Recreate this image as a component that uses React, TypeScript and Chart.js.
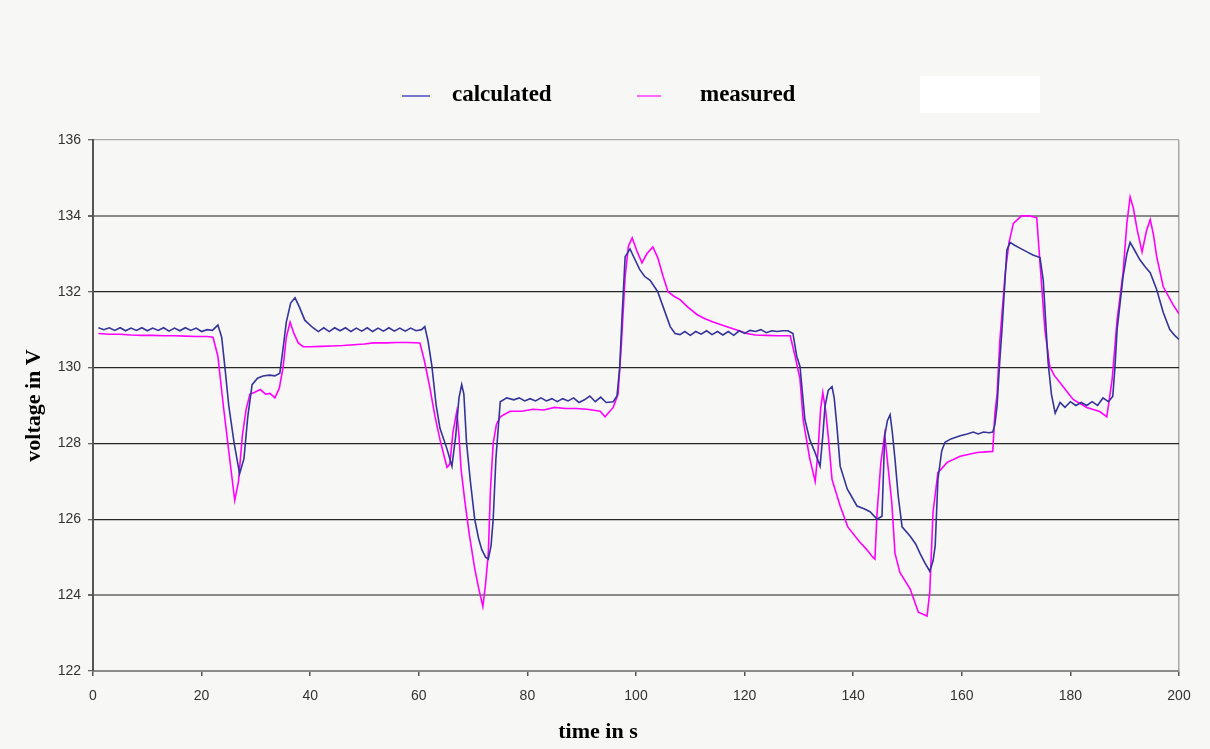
import React, { useEffect, useRef } from "react";
import { Chart, registerables } from "chart.js";

Chart.register(...registerables);

const seriesLabels = ["calculated", "measured"];
const seriesColors = ["#343499", "#ff00ff"];

const calcTime = [
  1, 2, 3, 4, 5, 6, 7, 8, 9, 10, 11, 12, 13, 14, 15, 16, 17, 18, 19, 20, 21, 22, 23,
  23.7, 24.3, 25, 26, 27, 27.8, 28.5, 29.3, 30.3, 31.3, 32.5, 33.5, 34.4, 35, 35.6, 36.4, 37.2, 38, 39,
  40.5, 41.5, 42.5, 43.5, 44.5, 45.5, 46.5, 47.5, 48.5, 49.5, 50.5, 51.5, 52.5, 53.5, 54.5, 55.5, 56.5,
  57.5, 58.5, 59.5, 60.5, 61.1, 61.7, 62.4, 63.2, 63.9, 65.2, 66.1, 66.8, 67.4, 67.9, 68.3, 68.8, 69.5,
  70.3, 71, 71.6, 72.3, 72.8, 73.3, 73.7, 74.2, 75, 76.2, 77.5, 78.5, 79.5, 80.5, 81.5, 82.5, 83.5, 84.5,
  85.5, 86.5, 87.5, 88.5, 89.5, 90.5, 91.5, 92.5, 93.5, 94.5, 95.8, 96.5, 97, 97.4, 98, 98.9, 99.8, 100.7,
  101.6, 102.6, 103.3, 104, 105, 106.3, 107.2, 108.1, 109, 110, 111, 112, 113, 114, 115, 116, 117, 118,
  119, 120, 121, 122, 123, 124, 125, 126, 127, 128, 128.9, 129.6, 130.2, 131.1, 132, 133, 133.9, 134.4,
  134.8, 135.4, 136.1, 136.5, 137, 137.6, 138.9, 140.7, 142, 143.1, 144.4, 145.3, 145.8, 146.3, 146.8,
  147.2, 147.7, 148.3, 149, 150.5, 151.5, 152.3, 153.2, 154.1, 154.7, 155.1, 155.6, 156.3, 156.9, 158,
  159.7, 161, 162.1, 163, 164, 165, 165.7, 166.1, 166.5, 167, 167.4, 168.3, 168.9, 169.8, 170.7, 172,
  173.1, 174.4, 175, 175.9, 176.5, 177.2, 178.1, 179, 180, 181, 182, 183, 184, 185, 186, 187, 187.8,
  188.2, 188.6, 189.7, 190.4, 191, 191.8, 192.8, 193.8, 194.7, 195.9, 197.1, 198.3, 199.2, 200,
];
const calcVolt = [
  131.05, 131.0, 131.05, 130.98, 131.05, 130.97, 131.04, 130.98, 131.05, 130.97, 131.04, 130.98, 131.05,
  130.96, 131.04, 130.97, 131.05, 130.98, 131.04, 130.95, 131.0, 130.98, 131.12,
  130.8, 130.0, 129.0, 128.0, 127.2, 127.6, 128.7, 129.55, 129.72, 129.78, 129.8, 129.78, 129.85, 130.5,
  131.2, 131.7, 131.84, 131.6, 131.25,
  131.05, 130.95, 131.05, 130.95, 131.05, 130.97, 131.05, 130.95, 131.04, 130.96, 131.05, 130.95, 131.04,
  130.96, 131.05, 130.96, 131.04, 130.96, 131.04, 130.97, 131.0, 131.08, 130.7, 130.05, 129.0, 128.4,
  127.85, 127.4, 128.2, 129.2, 129.55, 129.3, 128.0, 127.0,
  126.0, 125.5, 125.2, 125.0, 124.95, 125.3, 126.0, 127.6, 129.1, 129.2, 129.15, 129.2, 129.12, 129.18,
  129.12, 129.2, 129.12, 129.18,
  129.1, 129.18, 129.12, 129.2, 129.08, 129.15, 129.25, 129.1, 129.22, 129.08, 129.1, 129.25, 130.0,
  131.26, 132.92, 133.13, 132.85, 132.58,
  132.4, 132.3, 132.15, 132.0, 131.6, 131.08, 130.9, 130.87, 130.95, 130.85, 130.95, 130.88, 130.97,
  130.87, 130.95, 130.86, 130.95, 130.85,
  130.97, 130.9, 130.98, 130.95, 131.0, 130.92, 130.97, 130.95, 130.97, 130.97, 130.9, 130.3, 130.03,
  128.63, 128.1, 127.75, 127.4, 128.2,
  128.97, 129.4, 129.5, 129.2, 128.45, 127.4, 126.8, 126.35, 126.28, 126.2, 126.0, 126.08, 128.2, 128.6,
  128.76,
  128.3, 127.58, 126.6, 125.8, 125.55, 125.35, 125.1, 124.85, 124.63, 124.9, 125.3, 127.05, 127.8, 128.03,
  128.12,
  128.2, 128.25, 128.3, 128.25, 128.3, 128.28, 128.3, 128.5, 129.0, 130.2, 131.0, 133.1, 133.3, 133.22,
  133.15, 133.05,
  132.97, 132.9, 132.3, 130.13, 129.3, 128.8, 129.08, 128.95, 129.1, 129.0, 129.08, 129.0, 129.1, 129.0,
  129.2, 129.1, 129.24,
  130.0, 131.0, 132.4, 133.0, 133.3, 133.1, 132.84, 132.65, 132.5, 132.05, 131.45, 131.0, 130.85, 130.74,
];

const measTime = [
  1, 3, 5, 7, 9, 11, 13, 15, 17, 19, 21, 22.1, 23, 24, 25, 26.1, 26.8, 27.5, 28.2, 28.9, 29.8, 30.8,
  31.8, 32.6, 33.5, 34.3, 35, 35.6, 36.3, 37, 37.8, 38.7, 40, 42, 44, 46, 48, 50, 51.6, 54, 56, 58,
  60.2, 61, 62, 63, 63.9, 64.6, 65.2, 65.7, 66.3, 67, 67.4, 67.8, 68.5, 69.3, 70.3, 71, 71.8, 72.3,
  72.8, 73.2, 73.7, 74.3, 75, 76.8, 79, 81, 83, 85, 87, 89, 91, 93.4, 94.3, 95.8, 96.7, 97.3, 98,
  98.6, 99.3, 100.1, 101.1, 102, 103.1, 104, 105, 105.9, 107, 108.1, 109.5, 111.2, 112.5, 114.2,
  115.8, 117.3, 119, 120.4, 122, 124, 126, 128.4, 129.3, 130.2, 130.8, 132, 133, 133.5, 134, 134.4,
  134.9, 135.4, 136.1, 137.6, 139, 141.2, 142.5, 143.6, 144, 144.4, 145.1, 145.8, 146.4, 147.1,
  147.7, 148.6, 150.5, 152, 153.6, 154.1, 154.7, 155.6, 157.3, 159.7, 162.8, 165.7, 166.1, 166.5,
  167, 168, 168.7, 169.5, 171, 172.5, 173.8, 174.4, 175.3, 176.2, 177, 178.1, 180.5, 183, 185.4,
  186.7, 187.7, 188.6, 189.7, 190.4, 191, 191.6, 192.3, 193.2, 194, 194.7, 195.3, 195.9, 197.1,
  198.9, 200,
];
const measVolt = [
  130.9, 130.88, 130.88, 130.86, 130.85, 130.85, 130.84, 130.84, 130.83, 130.82, 130.82, 130.8, 130.3,
  129.0, 127.8, 126.5, 127.0, 128.2, 128.9, 129.3, 129.35, 129.42,
  129.3, 129.32, 129.2, 129.45, 130.0, 130.8, 131.2, 130.9, 130.65, 130.55, 130.55, 130.56, 130.57,
  130.58, 130.6, 130.62, 130.65, 130.65, 130.66, 130.66,
  130.65, 130.2, 129.5, 128.7, 128.1, 127.7, 127.37, 127.45, 128.3, 128.85, 128.2, 127.3, 126.45, 125.6,
  124.7, 124.2, 123.7, 124.3,
  125.1, 126.8, 128.0, 128.5, 128.7, 128.85, 128.85, 128.9, 128.88, 128.95, 128.92, 128.92, 128.9,
  128.85, 128.7, 128.95, 129.3, 130.6, 132.4,
  133.2, 133.42, 133.1, 132.76, 133.0, 133.18, 132.9, 132.4, 132.0, 131.88, 131.79, 131.6, 131.4, 131.3,
  131.2,
  131.12, 131.05, 130.97, 130.9, 130.86, 130.85, 130.84, 130.84, 130.3, 129.7, 128.6, 127.6, 127.0,
  127.75, 128.9, 129.34,
  128.9, 128.2, 127.05, 126.35, 125.8, 125.4, 125.2, 125.0, 124.95, 126.18, 127.5, 128.23, 127.4,
  126.45,
  125.1, 124.6, 124.16, 123.55, 123.45, 124.08, 126.18, 127.23, 127.5, 127.66, 127.76, 127.79, 128.8,
  129.3,
  130.7, 132.5, 133.3, 133.8, 134.0, 134.0, 133.95, 132.76, 131.0, 130.03, 129.8, 129.6, 129.16, 128.95,
  128.84,
  128.7, 129.7, 131.26, 132.5, 133.8, 134.5, 134.2, 133.63, 133.05, 133.6, 133.9, 133.5, 132.92, 132.13,
  131.66, 131.42,
];

const yMin = 122;
const yMax = 136;
const yStep = 2;
const xMin = 0;
const xMax = 200;
const xStep = 20;
const yTitle = "voltage in V";
const xTitle = "time in s";

const toPoints = (ts: number[], vs: number[]) => ts.map((t, i) => ({ x: t, y: vs[i] }));

const titleFont = "bold 22px 'Liberation Serif', 'Times New Roman', serif";
const legendFont = "bold 23px 'Liberation Serif', 'Times New Roman', serif";

export default function App() {
  const ref = useRef<HTMLCanvasElement | null>(null);

  useEffect(() => {
    if (!ref.current) return;

    const decorations = {
      id: "decorations",
      afterDraw(chart: any) {
        const ctx = chart.ctx as CanvasRenderingContext2D;
        ctx.save();
        // blank white box to the right of the legend
        ctx.fillStyle = "#ffffff";
        ctx.fillRect(920, 76, 120, 37);
        const slots = [
          { x1: 402, x2: 430, tx: 452 },
          { x1: 637, x2: 661, tx: 700 },
        ];
        chart.data.datasets.forEach((ds: any, i: number) => {
          const s = slots[i];
          ctx.strokeStyle = i === 0 ? "#7777cc" : "#ff66ff";
          ctx.lineWidth = 2;
          ctx.beginPath();
          ctx.moveTo(s.x1, 96);
          ctx.lineTo(s.x2, 96);
          ctx.stroke();
          ctx.fillStyle = "#000000";
          ctx.font = legendFont;
          ctx.textBaseline = "alphabetic";
          ctx.textAlign = "left";
          ctx.fillText(ds.label, s.tx, 101);
        });
        // x-axis title (sits slightly left of the plot centre in the original)
        ctx.font = titleFont;
        ctx.fillStyle = "#000000";
        ctx.textAlign = "center";
        ctx.textBaseline = "alphabetic";
        ctx.fillText(xTitle, 598, 738);
        ctx.restore();
      },
    };

    const yGridColor = (v: number) => {
      if (v === yMin) return "rgba(0,0,0,0)";
      if (v === 132 || v === 130 || v === 128 || v === 126) return "#262626";
      if (v === 136) return "#aaaaaa";
      return "#8a8a8a";
    };
    const yGridWidth = (v: number) => (v === 134 || v === 124 ? 2 : 1.3);

    const chart = new Chart(ref.current, {
      type: "line",
      data: {
        datasets: [
          {
            label: seriesLabels[0],
            data: toPoints(calcTime, calcVolt),
            borderColor: seriesColors[0],
            borderWidth: 1.6,
            pointRadius: 0,
            tension: 0,
            fill: false,
          },
          {
            label: seriesLabels[1],
            data: toPoints(measTime, measVolt),
            borderColor: seriesColors[1],
            borderWidth: 1.6,
            pointRadius: 0,
            tension: 0,
            fill: false,
          },
        ],
      },
      options: {
        responsive: false,
        animation: false,
        devicePixelRatio: 1,
        layout: { padding: { top: 140, right: 31, bottom: 0, left: 0 } },
        plugins: {
          legend: { display: false },
          tooltip: { enabled: false },
        },
        scales: {
          x: {
            type: "linear",
            min: xMin,
            max: xMax,
            afterFit: (scale: any) => {
              scale.height = 78;
            },
            ticks: {
              stepSize: xStep,
              color: "#333333",
              font: { family: "'Liberation Sans', Arial, sans-serif", size: 14 },
              padding: 12,
              maxRotation: 0,
            },
            grid: {
              color: (c: any) => (c.tick && c.tick.value === xMax ? "#a8a8a8" : "rgba(0,0,0,0)"),
              lineWidth: 1.5,
              tickColor: "#555555",
              tickLength: 5,
              drawOnChartArea: true,
            },
            border: { display: true, color: "#8c8c8c", width: 2 },
            title: { display: false, text: xTitle },
          },
          y: {
            min: yMin,
            max: yMax,
            afterFit: (scale: any) => {
              scale.width = 93;
            },
            ticks: {
              stepSize: yStep,
              color: "#333333",
              font: { family: "'Liberation Sans', Arial, sans-serif", size: 14 },
              padding: 7,
            },
            grid: {
              color: (c: any) => yGridColor(c.tick ? c.tick.value : 0),
              lineWidth: (c: any) => yGridWidth(c.tick ? c.tick.value : 0),
              tickColor: "#666666",
              tickLength: 5,
            },
            border: { display: true, color: "#555555", width: 2 },
            title: {
              display: true,
              text: yTitle,
              color: "#000000",
              font: { family: "'Liberation Serif', 'Times New Roman', serif", size: 22, weight: "bold" },
              padding: { top: 21, bottom: 0 },
            },
          },
        },
      },
      plugins: [decorations],
    });

    return () => {
      chart.destroy();
    };
  }, []);

  return (
    <div
      style={{
        position: "fixed",
        left: 0,
        top: 0,
        width: 1210,
        height: 749,
        background: "#f7f7f5",
      }}
    >
      <canvas ref={ref} width={1210} height={749} style={{ display: "block" }} />
    </div>
  );
}
